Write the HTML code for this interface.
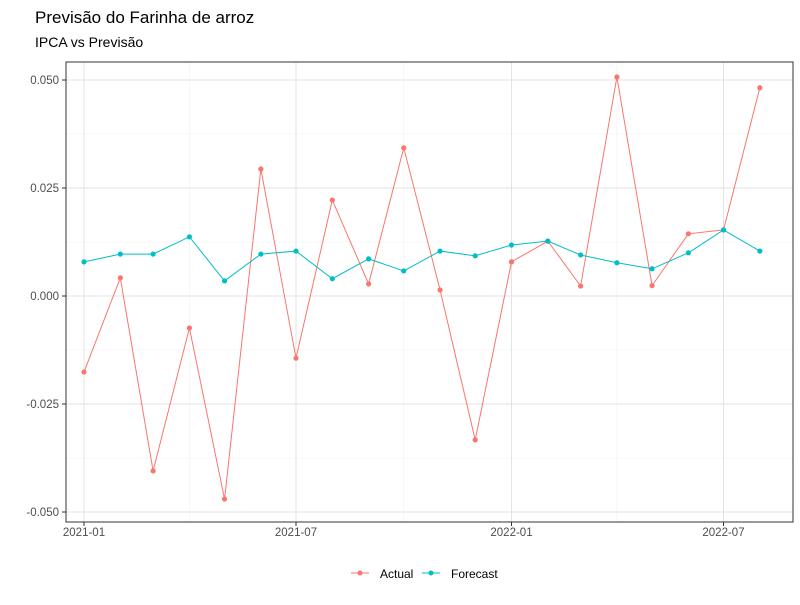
<!DOCTYPE html>
<html><head><meta charset="utf-8"><style>
body{margin:0;background:#fff;font-family:"Liberation Sans",Arial,sans-serif}
</style></head><body>
<svg id="chart" width="800" height="600" xmlns="http://www.w3.org/2000/svg">
<text x="35" y="23" font-size="17" fill="#000">Previsão do Farinha de arroz</text>
<text x="35" y="47" font-size="14" fill="#000">IPCA vs Previsão</text>
<g id="grid"></g><g id="series"></g><g id="axes"></g>
<rect x="66" y="62" width="727" height="460" fill="none" stroke="#333" stroke-width="1"/>
<g>
<g><line x1="351" y1="573" x2="369" y2="573" stroke="#F8766D"/><circle cx="360" cy="573" r="2.5" fill="#F8766D"/><text x="380" y="578" font-size="12">Actual</text></g>
<g><line x1="422" y1="573" x2="440" y2="573" stroke="#00BFC4"/><circle cx="431" cy="573" r="2.5" fill="#00BFC4"/><text x="451" y="578" font-size="12">Forecast</text></g>
</g>
</svg>
<script>
const months = ["2021-01","2021-02","2021-03","2021-04","2021-05","2021-06","2021-07","2021-08","2021-09","2021-10","2021-11","2021-12","2022-01","2022-02","2022-03","2022-04","2022-05","2022-06","2022-07","2022-08"];
const actual = [-0.0176,0.0042,-0.0405,-0.0074,-0.0470,0.0294,-0.0144,0.0222,0.0028,0.0343,0.0014,-0.0333,0.0079,0.0127,0.0023,0.0507,0.0024,0.0144,0.0153,0.0482];
const forecast = [0.0079,0.0097,0.0097,0.0137,0.0035,0.0097,0.0104,0.0040,0.0086,0.0058,0.0104,0.0093,0.0118,0.0127,0.0095,0.0077,0.0063,0.0100,0.0153,0.0104];
const yTicks = [-0.05,-0.025,0,0.025,0.05];
const yTickLabels = ["-0.050","-0.025","0.000","0.025","0.050"];
const xTicks = ["2021-01","2021-07","2022-01","2022-07"];
const xMinor = ["2020-10","2021-04","2021-10","2022-04","2022-10"];

const NS="http://www.w3.org/2000/svg";
const t0=Date.UTC(2021,0,1);
function days(s){const [y,m]=s.split("-").map(Number);return (Date.UTC(y,m-1,1)-t0)/86400000;}
function x(s){return 84+days(s)*(212/181);}
function y(v){return 296-v*4320;}
function mk(tag,attrs,parent){const e=document.createElementNS(NS,tag);for(const k in attrs)e.setAttribute(k,attrs[k]);parent.appendChild(e);return e;}
const grid=document.getElementById("grid"),axes=document.getElementById("axes"),ser=document.getElementById("series");
for(let i=0;i<yTicks.length-1;i++){const v=(yTicks[i]+yTicks[i+1])/2;
 const l=mk("line",{x1:66,x2:793,y1:y(v),y2:y(v),stroke:"#f0f0f0","stroke-width":0.6},grid);
 
 }
xMinor.forEach(s=>{const xv=x(s);if(xv<66||xv>793)return;
 const l=mk("line",{x1:xv,x2:xv,y1:62,y2:522,stroke:"#f0f0f0","stroke-width":0.6},grid);
 
 });
yTicks.forEach((v,i)=>{
 const l=mk("line",{x1:66,x2:793,y1:y(v),y2:y(v),stroke:"#e3e3e3","stroke-width":1},grid);
 
 
 mk("line",{x1:62,x2:66,y1:y(v),y2:y(v),stroke:"#333"},axes);
 const t=mk("text",{x:59,y:y(v)+4,"text-anchor":"end","font-size":11.5,fill:"#4d4d4d"},axes);
 t.textContent=yTickLabels[i];
 
 });
xTicks.forEach(s=>{const xv=x(s);
 const l=mk("line",{x1:xv,x2:xv,y1:62,y2:522,stroke:"#e3e3e3","stroke-width":1},grid);
 
 
 mk("line",{x1:xv,x2:xv,y1:522,y2:526,stroke:"#333"},axes);
 const t=mk("text",{x:xv,y:536,"text-anchor":"middle","font-size":11.5,fill:"#4d4d4d"},axes);
 t.textContent=s;
 
 });
function draw(vals,color,name){
 const pl=mk("polyline",{points:vals.map((v,i)=>x(months[i])+","+y(v)).join(" "),fill:"none",stroke:color,"stroke-width":1},ser);
 
 
 vals.forEach((v,i)=>{const c=mk("circle",{cx:x(months[i]),cy:y(v),r:2.6,fill:color},ser);
  
  });
}
draw(actual,"#F8766D","actual");
draw(forecast,"#00BFC4","forecast");
</script>
</body></html>
